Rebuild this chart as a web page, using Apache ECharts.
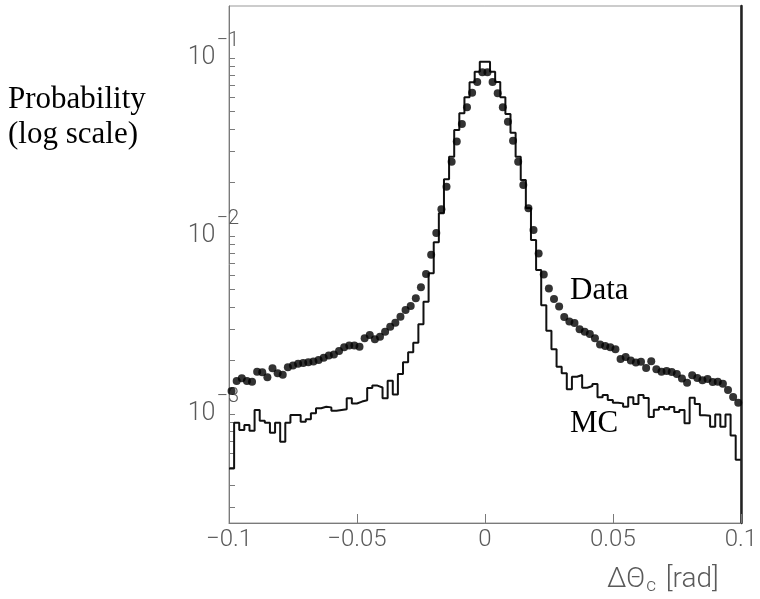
<!DOCTYPE html>
<html><head><meta charset="utf-8">
<script src="https://cdn.jsdelivr.net/npm/echarts@6/dist/echarts.min.js"></script>
<style>html,body{margin:0;padding:0;background:#fff}#c{width:760px;height:599px}</style>
</head><body><div id="c"></div>
<script>
// ---- data (probability per bin, 100 bins from -0.1 to 0.1 rad) ----
const xRange = [-0.1, 0.1];
const nBins = 100;
const mcValues = [
  4.95e-4, 8.93e-4, 8.13e-4, 8.67e-4, 8.06e-4, 1.053e-3, 9.17e-4, 8.93e-4, 7.85e-4, 8.93e-4,
  6.99e-4, 8.93e-4, 9.87e-4, 9.87e-4, 9.05e-4, 9.34e-4, 1.009e-3, 1.077e-3, 1.099e-3, 1.090e-3,
  1.043e-3, 1.053e-3, 1.063e-3, 1.225e-3, 1.147e-3, 1.175e-3, 1.194e-3, 1.40e-3, 1.445e-3, 1.41e-3,
  1.227e-3, 1.54e-3, 1.287e-3, 1.678e-3, 1.952e-3, 2.222e-3, 2.516e-3, 3.19e-3, 4.27e-3, 6.17e-3,
  9.23e-3, 1.342e-2, 2.083e-2, 2.79e-2, 3.94e-2, 4.89e-2, 6.01e-2, 7.30e-2, 8.38e-2, 9.53e-2,
  9.53e-2, 8.38e-2, 7.33e-2, 6.01e-2, 4.84e-2, 3.80e-2, 2.79e-2, 2.064e-2, 1.436e-2, 9.50e-3,
  6.44e-3, 4.09e-3, 2.94e-3, 2.31e-3, 1.844e-3, 1.693e-3, 1.377e-3, 1.620e-3, 1.656e-3, 1.405e-3,
  1.436e-3, 1.474e-3, 1.241e-3, 1.279e-3, 1.198e-3, 1.157e-3, 1.148e-3, 1.099e-3, 1.241e-3, 1.138e-3,
  1.279e-3, 1.230e-3, 9.62e-4, 1.057e-3, 1.095e-3, 1.063e-3, 1.095e-3, 1.026e-3, 1.053e-3, 8.87e-4,
  1.233e-3, 1.138e-3, 9.83e-4, 9.78e-4, 8.49e-4, 9.94e-4, 8.49e-4, 9.94e-4, 7.57e-4, 5.54e-4
];
const dataValues = [
  1.346e-3, 1.532e-3, 1.587e-3, 1.532e-3, 1.519e-3, 1.729e-3, 1.718e-3, 1.608e-3, 1.806e-3, 1.693e-3,
  1.665e-3, 1.830e-3, 1.873e-3, 1.919e-3, 1.934e-3, 1.952e-3, 1.972e-3, 2.011e-3, 2.072e-3, 2.132e-3,
  2.160e-3, 2.259e-3, 2.369e-3, 2.425e-3, 2.425e-3, 2.388e-3, 2.662e-3, 2.779e-3, 2.628e-3, 2.719e-3,
  2.90e-3, 3.093e-3, 3.259e-3, 3.52e-3, 3.84e-3, 4.04e-3, 4.47e-3, 5.15e-3, 6.12e-3, 7.85e-3,
  1.040e-2, 1.413e-2, 1.892e-2, 2.615e-2, 3.39e-2, 4.26e-2, 5.28e-2, 6.38e-2, 7.33e-2, 8.31e-2,
  8.31e-2, 7.33e-2, 6.34e-2, 5.28e-2, 4.39e-2, 3.43e-2, 2.615e-2, 1.934e-2, 1.431e-2, 1.081e-2,
  7.97e-3, 6.08e-3, 5.08e-3, 4.43e-3, 4.02e-3, 3.51e-3, 3.31e-3, 3.245e-3, 2.99e-3, 2.90e-3,
  2.815e-3, 2.662e-3, 2.457e-3, 2.410e-3, 2.369e-3, 2.31e-3, 2.037e-3, 2.09e-3, 1.998e-3, 1.947e-3,
  1.967e-3, 1.813e-3, 1.980e-3, 1.783e-3, 1.729e-3, 1.745e-3, 1.722e-3, 1.678e-3, 1.583e-3, 1.499e-3,
  1.650e-3, 1.593e-3, 1.546e-3, 1.573e-3, 1.513e-3, 1.519e-3, 1.480e-3, 1.364e-3, 1.246e-3, 1.157e-3
];
const xTicks = [-0.1, -0.05, 0, 0.05, 0.1];
const yDecades = [-3, -2, -1];           // log10 of 10^-3, 10^-2, 10^-1
const yRangeLog = [-3.612, -0.708];      // visible log10 range
const yTitle = ['Probability', '(log scale)'];
const xTitle = '{g|ΔΘ}{c|c}{g| [rad]}';
const seriesNames = ['Data', 'MC'];

// ---- build ----
const binW = (xRange[1] - xRange[0]) / nBins;
const mcStep = mcValues.map((v, i) => [xRange[0] + i * binW, Math.log10(v)]);
mcStep.push([xRange[1], Math.log10(mcValues[nBins - 1])]);
const dataPts = dataValues.map((v, i) => [xRange[0] + (i + 0.5) * binW, Math.log10(v)]);

const minorTicks = [];
for (let d = -4; d <= -1; d++) for (let k = 1; k <= 9; k++) {
  const t = d + Math.log10(k);
  if (t > yRangeLog[0] && t < yRangeLog[1]) minorTicks.push(t);
}

const axisGray = '#7a7a7a';
const labelGray = '#5a5a5a';
const sansFont = 'Roboto, "Liberation Sans", sans-serif';

const chart = echarts.init(document.getElementById('c'), null, {renderer: 'canvas'});
chart.setOption({
  animation: false,
  backgroundColor: '#fff',
  grid: {left: 229, right: 19, top: 6, bottom: 76, show: true, borderColor: '#999', borderWidth: 1},
  xAxis: {
    type: 'value', min: xRange[0], max: xRange[1], interval: 0.05,
    axisLine: {show: true, onZero: false, lineStyle: {color: axisGray, width: 1}},
    axisTick: {show: true, inside: true, length: 9, customValues: xTicks, lineStyle: {color: axisGray}},
    axisLabel: {
      customValues: xTicks, margin: 5, color: labelGray, fontSize: 24, fontFamily: sansFont, fontWeight: 300,
      formatter: v => { const s = String(+v.toFixed(3)); return s.replace('-', '−'); }
    },
    splitLine: {show: false}
  },
  yAxis: [{
    type: 'value', min: yRangeLog[0], max: yRangeLog[1], position: 'left',
    axisLine: {show: true, onZero: false, lineStyle: {color: axisGray, width: 1}},
    axisTick: {show: true, inside: true, length: 6, customValues: minorTicks, lineStyle: {color: axisGray}},
    axisLabel: {
      customValues: yDecades, margin: -10, color: labelGray, fontFamily: sansFont, fontWeight: 300,
      formatter: v => '{b|10}{s|−' + Math.abs(Math.round(v)) + '}',
      rich: {
        b: {fontSize: 25, color: labelGray, fontFamily: sansFont, fontWeight: 300},
        s: {fontSize: 20, color: labelGray, fontFamily: sansFont, fontWeight: 300, padding: [0, 0, 34, 1]}
      }
    },
    splitLine: {show: false}
  }, {
    type: 'value', min: yRangeLog[0], max: yRangeLog[1], position: 'right',
    axisLine: {show: true, onZero: false, lineStyle: {color: '#222', width: 2.5}},
    axisTick: {show: false}, axisLabel: {show: false}, splitLine: {show: false}
  }],
  series: [{
    name: seriesNames[1], type: 'line', step: 'end', data: mcStep, symbol: 'none',
    lineStyle: {color: '#111', width: 2}, z: 2
  }, {
    name: seriesNames[0], type: 'scatter', data: dataPts, symbol: 'circle', symbolSize: 8,
    itemStyle: {color: '#000'}, z: 3
  }],
  graphic: [
    {type: 'text', x: 8, y: 100, style: {text: yTitle[0], font: '31px "Liberation Serif"', fill: '#000', verticalAlign: 'middle'}},
    {type: 'text', x: 8, y: 135, style: {text: yTitle[1], font: '31px "Liberation Serif"', fill: '#000', verticalAlign: 'middle'}},
    {type: 'text', x: 570, y: 291, style: {text: seriesNames[0], font: '31px "Liberation Serif"', fill: '#000', verticalAlign: 'middle'}},
    {type: 'text', x: 570, y: 424, style: {text: seriesNames[1], font: '31px "Liberation Serif"', fill: '#000', verticalAlign: 'middle'}},
    {type: 'text', x: 607, y: 580, style: {
      text: xTitle, fill: labelGray, verticalAlign: 'middle',
      font: '300 28px ' + sansFont,
      rich: {
        g: {fontSize: 28, fontFamily: sansFont, fontWeight: 300, fill: labelGray},
        c: {fontSize: 19, fontFamily: sansFont, fontWeight: 300, fill: labelGray, padding: [12, 3, 0, 1]}
      }
    }}
  ]
});
</script>
</body></html>
